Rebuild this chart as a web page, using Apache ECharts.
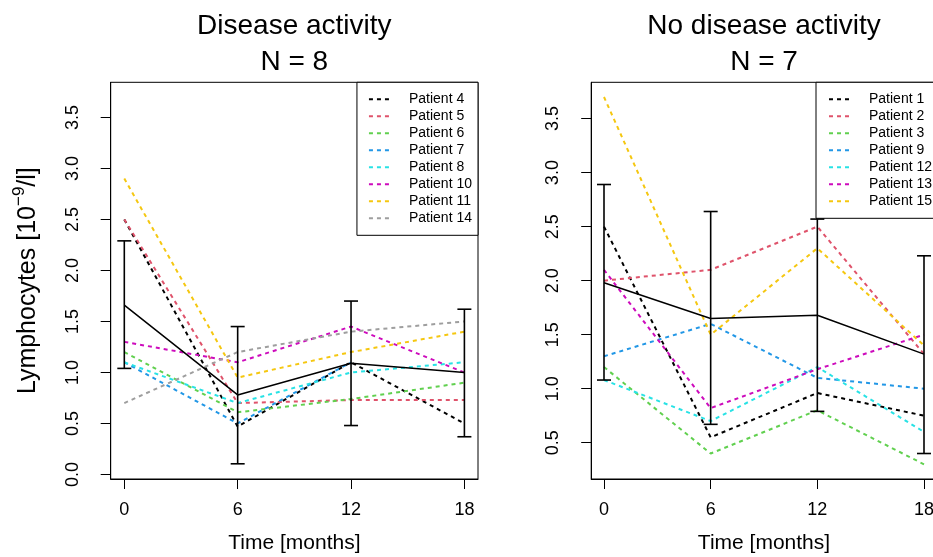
<!DOCTYPE html>
<html>
<head>
<meta charset="utf-8">
<script src="https://cdn.jsdelivr.net/npm/echarts@6.0.0/dist/echarts.min.js"></script>
<style>
  html, body { margin: 0; padding: 0; background: #ffffff; }
  #chart { width: 933px; height: 557px; }
</style>
</head>
<body>
<div id="chart"></div>
<script>
// ---------- DATA ----------
const months = [0, 6, 12, 18];
const xTicks = [0, 6, 12, 18];
const yTicksLeft = [0, 0.5, 1, 1.5, 2, 2.5, 3, 3.5];
const yTicksRight = [0.5, 1, 1.5, 2, 2.5, 3, 3.5];

// Disease activity (N = 8)
const leftNames = ['Patient 4', 'Patient 5', 'Patient 6', 'Patient 7', 'Patient 8', 'Patient 10', 'Patient 11', 'Patient 14'];
const p4  = [2.5, 0.47, 1.1, 0.5];
const p5  = [2.5, 0.7, 0.73, 0.73];
const p6  = [1.2, 0.61, 0.74, 0.9];
const p7  = [1.1, 0.5, 1.1, null];
const p8  = [1.1, 0.7, 1.0, 1.1];
const p10 = [1.3, 1.1, 1.45, 1.0];
const p11 = [2.9, 0.95, 1.2, 1.4];
const p14 = [0.7, 1.2, 1.4, 1.5];
const meanDA = [1.66, 0.78, 1.09, 1.0];
const lowDA  = [1.04, 0.105, 0.48, 0.37];
const highDA = [2.29, 1.45, 1.70, 1.62];

// No disease activity (N = 7)
const rightNames = ['Patient 1', 'Patient 2', 'Patient 3', 'Patient 9', 'Patient 12', 'Patient 13', 'Patient 15'];
const p1  = [2.5, 0.55, 0.96, 0.75];
const p2  = [2.0, 2.1, 2.5, 1.32];
const p3  = [1.2, 0.4, 0.8, 0.3];
const p9  = [1.3, 1.6, 1.1, 1.0];
const p12 = [1.08, 0.7, 1.2, 0.6];
const p13 = [2.1, 0.82, 1.18, 1.5];
const p15 = [3.7, 1.5, 2.3, 1.4];
const meanNDA = [1.98, 1.65, 1.68, 1.32];
const lowNDA  = [1.08, 0.67, 0.79, 0.40];
const highNDA = [2.89, 2.64, 2.57, 2.23];

const leftValues = [p4, p5, p6, p7, p8, p10, p11, p14];
const rightValues = [p1, p2, p3, p9, p12, p13, p15];

// ---------- STYLE ----------
const palette = ['#000000', '#DF536B', '#61D04F', '#2297E6', '#28E2E5', '#CD0BBC', '#F5C710', '#9E9E9E'];
const FONT = "'Liberation Sans', Arial, Helvetica, sans-serif";

function patientSeries(names, values, axisIdx) {
  return names.map((n, i) => ({
    type: 'line',
    name: n,
    xAxisIndex: axisIdx,
    yAxisIndex: axisIdx,
    data: months.map((m, j) => [m, values[i][j]]),
    symbol: 'none',
    showSymbol: false,
    connectNulls: false,
    lineStyle: { color: palette[i], width: 2, type: [4, 4] },
    itemStyle: { color: palette[i] },
    silent: true,
    z: 2
  }));
}

function meanSeries(name, vals, axisIdx) {
  return {
    type: 'line',
    name: name,
    xAxisIndex: axisIdx,
    yAxisIndex: axisIdx,
    data: months.map((m, j) => [m, vals[j]]),
    symbol: 'none',
    lineStyle: { color: '#000', width: 1.5, type: 'solid' },
    itemStyle: { color: '#000' },
    silent: true,
    z: 3
  };
}

function errorSeries(name, lo, hi, axisIdx) {
  return {
    type: 'custom',
    name: name,
    xAxisIndex: axisIdx,
    yAxisIndex: axisIdx,
    data: months.map((m, j) => [m, lo[j], hi[j]]),
    silent: true,
    z: 4,
    clip: false,
    renderItem: function (params, api) {
      const x = api.value(0);
      const a = api.coord([x, api.value(1)]);
      const b = api.coord([x, api.value(2)]);
      const hw = 7;
      const st = { stroke: '#000', lineWidth: 1.6 };
      return {
        type: 'group',
        children: [
          { type: 'line', shape: { x1: a[0], y1: a[1], x2: b[0], y2: b[1] }, style: st },
          { type: 'line', shape: { x1: a[0] - hw, y1: a[1], x2: a[0] + hw, y2: a[1] }, style: st },
          { type: 'line', shape: { x1: b[0] - hw, y1: b[1], x2: b[0] + hw, y2: b[1] }, style: st }
        ]
      };
    }
  };
}

const axisCommonX = {
  type: 'value',
  min: -0.72, max: 18.72,
  axisLine: { show: true, onZero: false, lineStyle: { color: '#000', width: 1 } },
  axisTick: { show: true, length: 10, customValues: xTicks, lineStyle: { color: '#000', width: 1 } },
  axisLabel: { customValues: xTicks, color: '#000', fontSize: 18, fontFamily: FONT, margin: 22 },
  splitLine: { show: false },
  name: 'Time [months]',
  nameLocation: 'middle',
  nameGap: 54,
  nameTextStyle: { color: '#000', fontSize: 21, fontFamily: FONT }
};

const option = {
  animation: false,
  backgroundColor: '#ffffff',
  grid: [
    { left: 110.7, top: 82.3, width: 367.3, height: 396.7, show: true, borderColor: '#000', borderWidth: 1, containLabel: false, outerBoundsMode: 'none' },
    { left: 591.2, top: 82.3, width: 345.6, height: 396.7, show: true, borderColor: '#000', borderWidth: 1, containLabel: false, outerBoundsMode: 'none' }
  ],
  xAxis: [
    Object.assign({ gridIndex: 0 }, axisCommonX),
    Object.assign({ gridIndex: 1 }, axisCommonX)
  ],
  yAxis: [
    {
      gridIndex: 0, type: 'value', min: -0.044, max: 3.844,
      axisLine: { show: true, onZero: false, lineStyle: { color: '#000', width: 1 } },
      axisTick: { show: true, length: 10, customValues: yTicksLeft, lineStyle: { color: '#000', width: 1 } },
      axisLabel: { customValues: yTicksLeft, rotate: 90, color: '#000', fontSize: 18, fontFamily: FONT, margin: 29,
        formatter: v => v.toFixed(1) },
      splitLine: { show: false },
      name: '{a|Lymphocytes [10}{b|\u22129}{a|/l]}',
      nameLocation: 'middle',
      nameGap: 66,
      nameTextStyle: {
        color: '#000', fontSize: 25, fontFamily: FONT,
        rich: {
          a: { fontSize: 25, fontFamily: FONT, color: '#000', lineHeight: 34 },
          b: { fontSize: 17, fontFamily: FONT, color: '#000', lineHeight: 17, verticalAlign: 'top' }
        }
      }
    },
    {
      gridIndex: 1, type: 'value', min: 0.164, max: 3.836,
      axisLine: { show: true, onZero: false, lineStyle: { color: '#000', width: 1 } },
      axisTick: { show: true, length: 10, customValues: yTicksRight, lineStyle: { color: '#000', width: 1 } },
      axisLabel: { customValues: yTicksRight, rotate: 90, color: '#000', fontSize: 18, fontFamily: FONT, margin: 29,
        formatter: v => v.toFixed(1) },
      splitLine: { show: false }
    }
  ],
  legend: [
    {
      data: leftNames,
      orient: 'vertical',
      right: 455, top: 82.3,
      itemWidth: 22, itemHeight: 14, itemGap: 3,
      padding: [10, 6, 10, 11],
      borderColor: '#000', borderWidth: 1, borderRadius: 0,
      backgroundColor: '#ffffff',
      selectedMode: false,
      itemStyle: { opacity: 0 },
      textStyle: { color: '#000', fontSize: 14, fontFamily: FONT, padding: [0, 0, 0, 13] }
    },
    {
      data: rightNames,
      orient: 'vertical',
      left: 816, top: 82.3,
      itemWidth: 22, itemHeight: 14, itemGap: 3,
      padding: [10, 6, 10, 12],
      borderColor: '#000', borderWidth: 1, borderRadius: 0,
      backgroundColor: '#ffffff',
      selectedMode: false,
      itemStyle: { opacity: 0 },
      textStyle: { color: '#000', fontSize: 14, fontFamily: FONT, padding: [0, 0, 0, 13] }
    }
  ],
  graphic: [
    { type: 'text', x: 294.3, y: 8, silent: true,
      style: { text: 'Disease activity\nN = 8', fill: '#000', fontSize: 28, fontFamily: FONT, align: 'center', verticalAlign: 'top', lineHeight: 36 } },
    { type: 'text', x: 764, y: 8, silent: true,
      style: { text: 'No disease activity\nN = 7', fill: '#000', fontSize: 28, fontFamily: FONT, align: 'center', verticalAlign: 'top', lineHeight: 36 } }
  ],
  series: [].concat(
    patientSeries(leftNames, leftValues, 0),
    patientSeries(rightNames, rightValues, 1),
    [meanSeries('Mean DA', meanDA, 0), meanSeries('Mean NDA', meanNDA, 1)],
    [errorSeries('Error DA', lowDA, highDA, 0), errorSeries('Error NDA', lowNDA, highNDA, 1)]
  )
};

const chart = echarts.init(document.getElementById('chart'), null, { renderer: 'canvas', width: 933, height: 557 });
chart.setOption(option);
</script>
</body>
</html>
